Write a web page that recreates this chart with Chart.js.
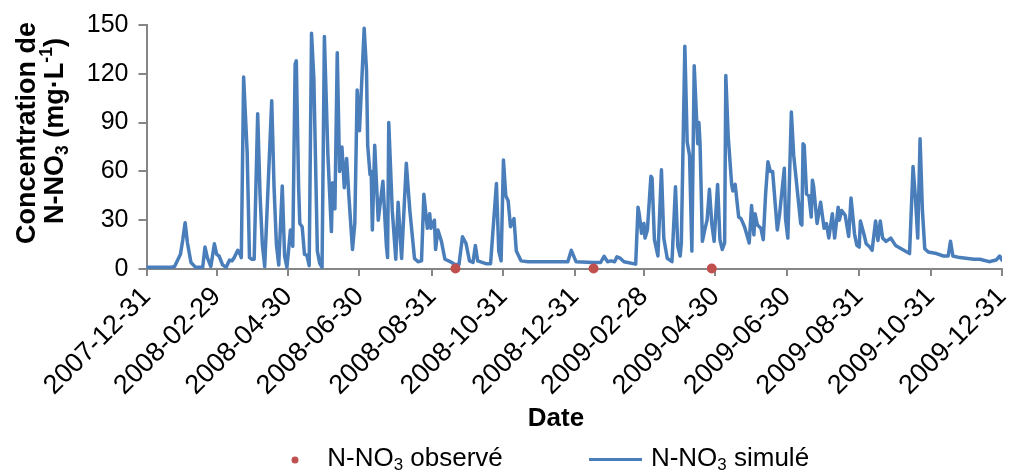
<!DOCTYPE html>
<html>
<head>
<meta charset="utf-8">
<script src="https://cdn.jsdelivr.net/npm/chart.js@4"></script>
<style>
  body { margin: 0; background: #fff; }
</style>
</head>
<body>
<canvas id="chart" width="1034" height="475"></canvas>
<script>
// x tick labels (dates), positions are days since 2007-12-31
const tickLabels = ["2007-12-31", "2008-02-29", "2008-04-30", "2008-06-30", "2008-08-31", "2008-10-31",
  "2008-12-31", "2009-02-28", "2009-04-30", "2009-06-30", "2009-08-31", "2009-10-31", "2009-12-31"];
const yTicks = [0, 30, 60, 90, 120, 150];

// simulated N-NO3 (day since 2007-12-31, mg/L)
const simDays = [0, 10, 20, 24, 28, 29, 31, 33, 35, 38, 42, 48, 50, 52, 55, 58, 60, 62, 65, 68,
  71, 73, 75, 78, 80, 81, 83, 86, 88, 90, 92, 95, 97, 99, 101, 107, 109, 111, 113, 116,
  118, 120, 123, 125, 127, 128, 130, 131, 133, 135, 137, 139, 141, 143, 146, 148, 150, 152, 155, 158,
  159, 161, 163, 165, 167, 169, 171, 173, 176, 178, 180, 182, 186, 188, 189, 191, 192, 193, 195, 198,
  202, 205, 206, 207, 210, 213, 215, 218, 222, 225, 229, 232, 235, 237, 240, 242, 243, 246, 247, 249,
  252, 255, 259, 263, 267, 270, 273, 276, 279, 281, 283, 290, 294, 299, 301, 303, 305, 307, 309, 311,
  314, 316, 320, 326, 360, 363, 367, 382, 388, 391, 394, 397, 400, 402, 405, 408, 418, 420, 421, 423,
  425, 426, 428, 431, 432, 434, 437, 440, 442, 445, 449, 452, 454, 456, 457, 460, 462, 464, 466, 468,
  471, 472, 473, 475, 477, 479, 481, 483, 485, 488, 490, 492, 494, 495, 497, 500, 501, 503, 506, 508,
  511, 515, 517, 519, 520, 522, 525, 527, 529, 531, 533, 535, 539, 541, 545, 546, 548, 551, 553, 559,
  560, 561, 562, 564, 566, 568, 569, 570, 573, 576, 579, 581, 583, 586, 588, 591, 592, 594, 597, 600,
  602, 605, 607, 609, 610, 613, 615, 618, 620, 623, 625, 627, 629, 632, 636, 640, 646, 652, 655, 657,
  659, 661, 663, 665, 668, 675, 681, 685, 687, 689, 695, 707, 712, 720, 726, 729, 731];
const simValues = [1, 1, 1, 1.5, 7.5, 9, 18, 28.5, 16, 4, 1, 1, 13.5, 7, 1.5, 15.5, 9, 8, 2.5, 1,
  5.5, 5, 7, 11.5, 9, 7, 118, 72, 7, 6, 6, 95.5, 46, 15, 1.5, 103.5, 50, 15, 2.5, 51,
  8, 1, 24, 14, 126, 128, 50, 28, 26, 9, 8.5, 2, 145, 117, 11, 3.5, 1, 143, 70, 23,
  53, 37, 133, 60, 75, 50, 68, 44, 12, 28, 110, 85, 148, 122, 76, 58, 60, 24, 76, 30,
  54, 14, 7, 90, 36, 6, 41, 6.5, 65, 36, 6.5, 4.5, 5, 46, 25, 34, 25, 30, 12, 24,
  17, 6, 4.7, 3, 2.7, 19.8, 15.8, 5, 4, 14.4, 5, 3.3, 3.3, 52.5, 11, 5, 67, 45, 42, 26,
  31, 11, 5, 4.5, 4.5, 11.5, 4.5, 4, 4, 7.8, 4.5, 5, 4.5, 7.5, 6.5, 4.5, 3, 38, 34, 22,
  28, 19, 24, 57, 56, 18, 8, 61, 19, 6.5, 4.5, 50.5, 14, 8, 16, 137, 78, 70, 11, 125,
  77, 90, 77, 17, 24, 30, 49, 28, 17, 52, 18, 12, 16, 119, 82, 52, 48, 52, 32, 31,
  26, 16, 39, 21, 34, 27, 25, 18, 46, 66, 60, 60, 24, 34, 62, 31, 19, 96.5, 70, 28,
  27, 77, 76, 46, 45, 32, 54.6, 51, 28, 41, 25, 28, 19, 34, 19, 38, 30, 36, 33, 20,
  43.7, 21.5, 14.5, 13.5, 29.5, 21.5, 15.5, 13.5, 11.5, 29.5, 17.5, 29.5, 19, 17, 19, 14.5, 12, 9.5, 63, 44,
  19, 80, 36, 12.5, 10.5, 9.5, 8, 8, 17, 8, 7, 6, 6, 4.5, 5.5, 8, 5.5];

// observed N-NO3
const obsDays = [264, 382, 483];
const obsValues = [0.3, 0.3, 0.3];

const startMs = Date.parse("2007-12-31");
const tickDays = tickLabels.map(s => Math.round((Date.parse(s) - startMs) / 86400000));

const BLUE = "#4A7EBB";
const RED = "#C0504D";
const AXIS = "#868686";
const FONT = "'Liberation Sans', Arial, sans-serif";

Chart.defaults.font.family = FONT;
Chart.defaults.color = "#000";

// text with sub/superscript parts: [text, "sub"|"sup"|""]
function drawRich(ctx, parts, x, y, size, bold) {
  const w = parts.map(p => {
    ctx.font = (bold ? "bold " : "") + (p[1] ? size * 0.65 : size) + "px " + FONT;
    return ctx.measureText(p[0]).width;
  });
  let cx = x - w.reduce((a, b) => a + b, 0) / 2;
  ctx.textAlign = "left";
  ctx.textBaseline = "middle";
  parts.forEach((p, i) => {
    ctx.font = (bold ? "bold " : "") + (p[1] ? size * 0.65 : size) + "px " + FONT;
    let dy = 0;
    if (p[1] === "sub") dy = size * 0.25;
    if (p[1] === "sup") dy = -size * 0.33;
    ctx.fillText(p[0], cx, y + dy);
    cx += w[i];
  });
}

const decorations = {
  id: "decorations",
  afterDraw(chart) {
    const ctx = chart.ctx;
    ctx.save();
    ctx.fillStyle = "#000";

    // y title, two lines
    ctx.save();
    ctx.translate(28, 133);
    ctx.rotate(-Math.PI / 2);
    drawRich(ctx, [["Concentration de", ""]], 0, 0, 27, true);
    ctx.restore();
    ctx.save();
    ctx.translate(56, 131);
    ctx.rotate(-Math.PI / 2);
    drawRich(ctx, [["N-NO", ""], ["3", "sub"], [" (mg·L", ""], ["-1", "sup"], [")", ""]], 0, 0, 27, true);
    ctx.restore();

    // x title
    drawRich(ctx, [["Date", ""]], 556, 419, 26, true);

    // legend
    ctx.fillStyle = RED;
    ctx.beginPath();
    ctx.arc(295, 460, 3.5, 0, Math.PI * 2);
    ctx.fill();
    ctx.fillStyle = "#000";
    drawRich(ctx, [["N-NO", ""], ["3", "sub"], [" observé", ""]], 327 + 88, 459, 26, false);

    ctx.strokeStyle = BLUE;
    ctx.lineWidth = 3;
    ctx.beginPath();
    ctx.moveTo(589, 459.5);
    ctx.lineTo(642, 459.5);
    ctx.stroke();
    drawRich(ctx, [["N-NO", ""], ["3", "sub"], [" simulé", ""]], 647 + 83, 459, 26, false);
    ctx.restore();
  }
};

new Chart(document.getElementById("chart"), {
  type: "scatter",
  data: {
    datasets: [
      {
        label: "N-NO3 observé",
        data: obsDays.map((d, i) => ({ x: d, y: obsValues[i] })),
        backgroundColor: RED,
        borderColor: RED,
        pointRadius: 5,
        pointBorderWidth: 0,
        clip: false
      },
      {
        label: "N-NO3 simulé",
        data: simDays.map((d, i) => ({ x: d, y: simValues[i] })),
        showLine: true,
        borderColor: BLUE,
        borderWidth: 3.5,
        borderJoinStyle: "round",
        borderCapStyle: "round",
        pointRadius: 0,
        tension: 0
      }
    ]
  },
  options: {
    responsive: false,
    animation: false,
    layout: { padding: { left: 0, right: 32, top: 22, bottom: 0 } },
    plugins: {
      legend: { display: false },
      tooltip: { enabled: false }
    },
    scales: {
      x: {
        type: "linear",
        min: 0,
        max: tickDays[tickDays.length - 1],
        afterBuildTicks: s => { s.ticks = tickDays.map(v => ({ value: v })); },
        afterFit: s => { s.height = 475 - 269; },
        ticks: {
          autoSkip: false,
          minRotation: 45,
          maxRotation: 45,
          font: { size: 27 },
          color: "#000",
          padding: 5,
          callback: v => tickLabels[tickDays.indexOf(v)]
        },
        grid: { drawOnChartArea: false, color: AXIS, lineWidth: 2, tickLength: 7 },
        border: { color: AXIS, width: 2 }
      },
      y: {
        min: 0,
        max: 150,
        afterBuildTicks: s => { s.ticks = yTicks.map(v => ({ value: v })); },
        afterFit: s => { s.width = 146.5; },
        ticks: { font: { size: 25 }, color: "#000", padding: 10 },
        grid: { drawOnChartArea: false, color: AXIS, lineWidth: 2, tickLength: 8 },
        border: { color: AXIS, width: 2 }
      }
    }
  },
  plugins: [decorations]
});
</script>
</body>
</html>
